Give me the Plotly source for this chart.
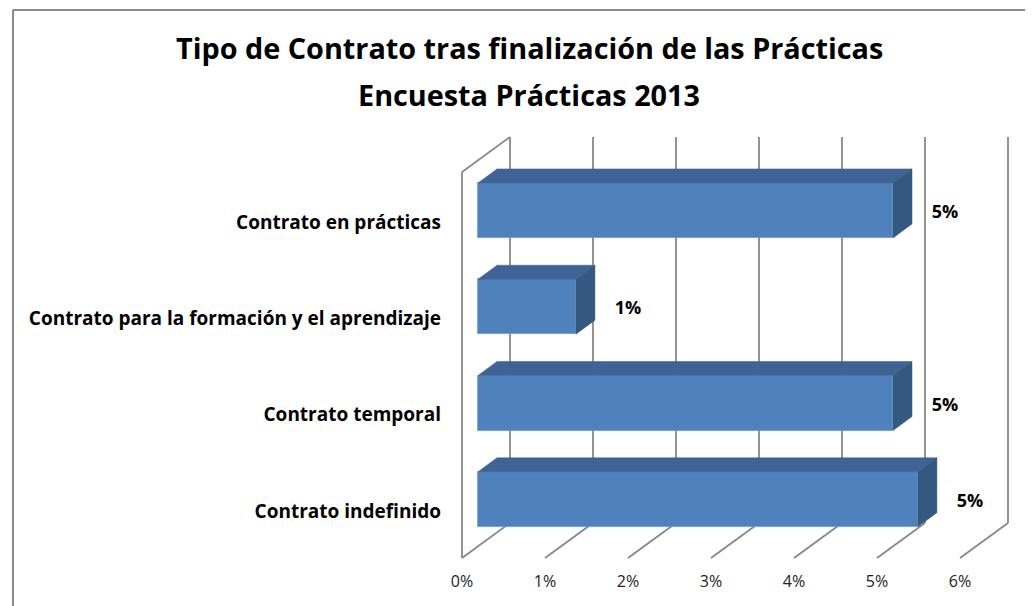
import plotly.graph_objects as go

# ---------------- data ----------------
categories = [
    "Contrato indefinido",
    "Contrato temporal",
    "Contrato para la formación y el aprendizaje",
    "Contrato en prácticas",
]
values = [5.3, 5.0, 1.18, 5.0]          # percent
x_ticks = [0, 1, 2, 3, 4, 5, 6]
x_tick_labels = ["0%", "1%", "2%", "3%", "4%", "5%", "6%"]
title_lines = ["Tipo de Contrato tras finalización de las Prácticas", "Encuesta Prácticas 2013"]

FONT = "Open Sans"

# ---------------- layout geometry ----------------
# page pixels; the html body adds an 8px margin, so the figure is shifted by OFF
OFF = 8
W, H = 1033 - OFF, 606 - OFF
L, R, T, B = 450, 1025, 128, 560          # plot area in page pixels
X0_PX, PX_X = 462, 83.0                   # page pixel of x=0 on front plane, px per 1%
Y0_PX, PX_Y = 511, 96.3                   # page pixel of category 0, px per category

x_range = [(L - X0_PX) / PX_X, (R - X0_PX) / PX_X]
y_range = [(Y0_PX - B) / PX_Y, (Y0_PX - T) / PX_Y]

def dx(px):
    return px / PX_X

def dy(px):
    return px / PX_Y

def paper_x(p):
    return (p - L) / (R - L)

def paper_y(p):
    return (B - p) / (B - T)

# 3D depth offsets
BACK_DX, BACK_DY = dx(48), dy(35)          # back wall offset
wall_bot, wall_top = dy(Y0_PX - 558), dy(Y0_PX - 172)
FRONT_DX, FRONT_DY = dx(16), dy(11.7)      # bar front face offset
DEPTH_DX, DEPTH_DY = dx(19), dy(14)        # bar depth
HALF = dy(27.5)

BLUE = "#4F81BD"
TOP = "#3E6394"
SIDE = "#34587F"
GRID = "#888888"

fig = go.Figure()

# front faces as bars
fig.add_trace(go.Bar(
    y=[i + FRONT_DY for i in range(len(values))],
    x=values,
    base=FRONT_DX,
    orientation="h",
    width=2 * HALF,
    marker=dict(color=BLUE, line=dict(color="#6E97CB", width=0.8)),
    hoverinfo="skip",
    showlegend=False,
))

# top and side faces
tx, ty, sx, sy = [], [], [], []
for i, v in enumerate(values):
    x0 = FRONT_DX
    x1 = FRONT_DX + v
    yc = i + FRONT_DY
    tx += [x0, x1, x1 + DEPTH_DX, x0 + DEPTH_DX, x0, None]
    ty += [yc + HALF, yc + HALF, yc + HALF + DEPTH_DY, yc + HALF + DEPTH_DY, yc + HALF, None]
    sx += [x1, x1, x1 + DEPTH_DX, x1 + DEPTH_DX, x1, None]
    sy += [yc - HALF, yc + HALF, yc + HALF + DEPTH_DY, yc - HALF + DEPTH_DY, yc - HALF, None]

fig.add_trace(go.Scatter(x=tx, y=ty, mode="lines", fill="toself", fillcolor=TOP,
                         line=dict(color=TOP, width=0.5), hoverinfo="skip", showlegend=False))
fig.add_trace(go.Scatter(x=sx, y=sy, mode="lines", fill="toself", fillcolor=SIDE,
                         line=dict(color=SIDE, width=0.5), hoverinfo="skip", showlegend=False))

# data labels
fig.add_trace(go.Scatter(
    x=[FRONT_DX + v + dx(52) for v in values],
    y=[i + FRONT_DY - dy(3) for i in range(len(values))],
    mode="text",
    text=[f"{round(v)}%" for v in values],
    textfont=dict(family=FONT, size=18, color="#000000", weight="bold"),
    textposition="middle center",
    hoverinfo="skip",
    showlegend=False,
))

shapes = []
# back-wall gridlines and floor diagonals
for t in x_ticks:
    shapes.append(dict(type="line", xref="x", yref="y", layer="below",
                       x0=t + BACK_DX, x1=t + BACK_DX,
                       y0=wall_bot + BACK_DY, y1=wall_top + BACK_DY,
                       line=dict(color=GRID, width=1.8)))
    shapes.append(dict(type="line", xref="x", yref="y", layer="below",
                       x0=t, x1=t + BACK_DX, y0=wall_bot, y1=wall_bot + BACK_DY,
                       line=dict(color=GRID, width=1.8)))
# side wall outline
shapes.append(dict(type="line", xref="x", yref="y", layer="below",
                   x0=0, x1=0, y0=wall_bot, y1=wall_top, line=dict(color=GRID, width=1.8)))
shapes.append(dict(type="line", xref="x", yref="y", layer="below",
                   x0=0, x1=BACK_DX, y0=wall_top, y1=wall_top + BACK_DY,
                   line=dict(color=GRID, width=1.8)))

# outer chart border (left and top edges)
shapes.append(dict(type="line", xref="paper", yref="paper",
                   x0=paper_x(13), x1=paper_x(13), y0=paper_y(10), y1=paper_y(640),
                   line=dict(color="#8A8A8A", width=2)))
shapes.append(dict(type="line", xref="paper", yref="paper",
                   x0=paper_x(13), x1=paper_x(1060), y0=paper_y(10), y1=paper_y(10),
                   line=dict(color="#8A8A8A", width=2)))

# title lines
annotations = []
for line, yc in zip(title_lines, [47, 94]):
    annotations.append(dict(
        text=line, xref="paper", yref="paper",
        x=paper_x(529), y=paper_y(yc), xanchor="center", yanchor="middle",
        showarrow=False,
        font=dict(family=FONT, size=28.8, color="#000000", weight="bold"),
    ))

fig.update_layout(
    width=W, height=H,
    margin=dict(l=L - OFF, r=1033 - R, t=T - OFF, b=606 - B),
    paper_bgcolor="white",
    plot_bgcolor="white",
    xaxis=dict(
        range=x_range, tickvals=x_ticks, ticktext=x_tick_labels,
        showgrid=False, zeroline=False, showline=False,
        tickfont=dict(family=FONT, size=16, color="#222222"),
        ticklabelstandoff=10,
        fixedrange=True,
    ),
    yaxis=dict(
        range=y_range, tickvals=list(range(len(categories))), ticktext=categories,
        showgrid=False, zeroline=False, showline=False,
        tickfont=dict(family=FONT, size=19, color="#000000", weight="bold"),
        ticklabelstandoff=8,
        fixedrange=True,
    ),
    shapes=shapes,
    annotations=annotations,
    bargap=0,
)

fig.write_html("out.html")
